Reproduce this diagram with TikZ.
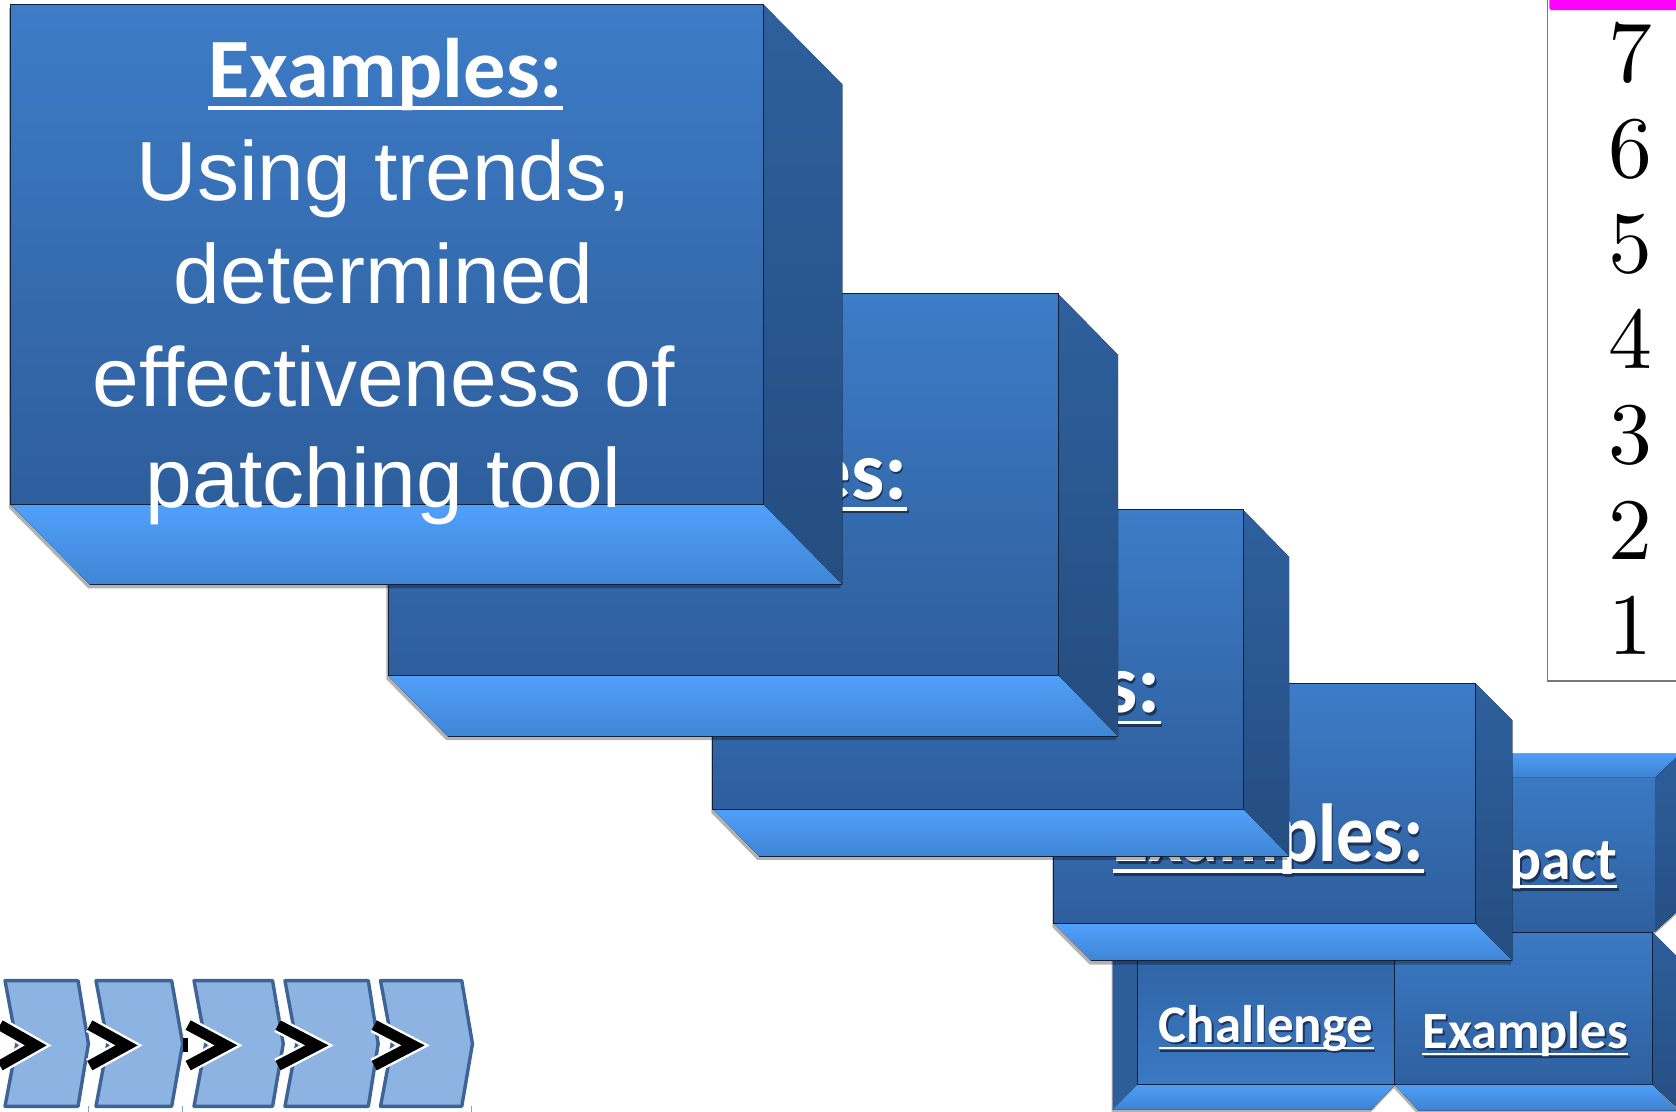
\documentclass[tikz,border=0pt]{standalone}
\usepackage{fontspec}
\usepackage{graphicx}
\usetikzlibrary{calc}
\newfontfamily\calibrifont{Carlito}
\newfontfamily\arialfont{Liberation Sans}
\newfontfamily\numfont[Extension=.otf]{lmroman10-regular}

\definecolor{faceTop}{RGB}{61,124,199}
\definecolor{faceBot}{RGB}{46,94,156}
\definecolor{sideTop}{RGB}{46,96,157}
\definecolor{sideBot}{RGB}{37,77,128}
\definecolor{baseTop}{RGB}{80,160,250}
\definecolor{baseBot}{RGB}{63,133,213}
\definecolor{edgeNavy}{RGB}{18,32,56}
\definecolor{txtShade}{RGB}{28,52,90}
\definecolor{bevLightTop}{RGB}{78,158,246}
\definecolor{bevLightBot}{RGB}{62,130,210}
\definecolor{bevDarkTop}{RGB}{45,94,154}
\definecolor{bevDarkBot}{RGB}{38,79,131}
\definecolor{panelHi}{RGB}{59,121,196}
\definecolor{panelLo}{RGB}{46,96,158}
\definecolor{chevFill}{RGB}{141,179,226}
\definecolor{chevLine}{RGB}{62,100,150}
\definecolor{colBorder}{RGB}{120,120,120}
\definecolor{barPink}{RGB}{255,0,255}

\tikzset{
  frontface/.style={top color=faceTop,bottom color=faceBot,draw=edgeNavy,line width=0.9pt},
  sideface/.style={top color=sideTop,bottom color=sideBot},
  baseface/.style={top color=baseTop,bottom color=baseBot},
  boxshade/.style={fill=black,fill opacity=0.3},
  edgeline/.style={draw=edgeNavy,line width=0.9pt},
  ttl/.style={font=\calibrifont\bfseries\fontsize{#1}{#1}\selectfont,inner sep=0pt},
  bodytxt/.style={font=\arialfont\fontsize{78.5}{94}\selectfont,text=white,inner sep=0pt,anchor=base},
  numtxt/.style={font=\numfont\fontsize{82}{82}\selectfont,inner sep=0pt,anchor=base},
  chev/.style={fill=chevFill,draw=chevLine,line width=3.2pt,line join=round},
  lightbevel/.style={top color=bevLightTop,bottom color=bevLightBot},
  darkbevel/.style={top color=bevDarkTop,bottom color=bevDarkBot},
}

% 3-D slab: front rectangle (#1,#2)-(#3,#4), depth (#5,#6)
\newcommand\slab[6]{%
  \fill[boxshade,shift={(-1.5,3.5)}] (#1,#2) -- (#3,#2) -- (#3+#5,#2+#6) -- (#3+#5,#4+#6) -- (#1+#5,#4+#6) -- (#1,#4) -- cycle;
  \fill[sideface] (#3,#2) -- (#3+#5,#2+#6) -- (#3+#5,#4+#6) -- (#3,#4) -- cycle;
  \fill[baseface] (#1,#4) -- (#3,#4) -- (#3+#5,#4+#6) -- (#1+#5,#4+#6) -- cycle;
  \draw[edgeline] (#1+#5,#4+#6) -- (#3+#5,#4+#6);
  \filldraw[frontface] (#1,#2) rectangle (#3,#4);
}

% underlined white title with a dark drop shadow
\newcommand\shadetitle[6]{%
  \node[ttl=#4,text=txtShade,anchor=#5] (#1-sh) at (#2+1.5,#3+2.6) {#6};
  \draw[txtShade,line width=0.045*#4] ($(#1-sh.base west)+(0,0.115*#4)$) -- ($(#1-sh.base east)+(0,0.115*#4)$);
  \node[ttl=#4,text=white,anchor=#5] (#1) at (#2,#3) {#6};
  \draw[white,line width=0.045*#4] ($(#1.base west)+(0,0.115*#4)$) -- ($(#1.base east)+(0,0.115*#4)$);
}

% chevron: left x, top-right x, point x
\newcommand\chevron[3]{%
  \draw[chev] (#1,917.5) -- (#2,917.5) -- (#3,976.5) -- (#2,1035) -- (#1,1035) -- (#1+11,976.5) -- cycle;
}
% heavy ">" mark: left x, tip x
\newcommand\gtmark[2]{%
  \draw[white,line width=14.5pt,line join=miter] (#1+2,959) -- (#2-10.5,978) -- (#1+2,997);
  \draw[black,line width=10pt,line join=miter] (#1+2,959) -- (#2-10.5,978) -- (#1+2,997);
}

\begin{document}
\begin{tikzpicture}[x=1pt,y=-1pt]
\useasboundingbox (0,0) rectangle (1568,1040);
\clip (0,0) rectangle (1568,1040);
\fill[white] (0,0) rectangle (1568,1040);

% ---- numbered column ----
\filldraw[fill=white,draw=colBorder,line width=1.2pt] (1448,-5) rectangle (1600,637);
\fill[barPink,rounded corners=2pt] (1449.5,-5) rectangle (1600,9.4);
\foreach \n [count=\i from 0] in {7,6,5,4,3,2,1}
  \node[numtxt] (num\n) at (1525,76.5+89.3*\i) {\n};

% ---- chevron strip ----
\chevron{4.7}{73}{82.7}
\chevron{89.8}{160.6}{170.9}
\chevron{181.5}{255}{265}
\chevron{266.6}{344.6}{353.8}
\chevron{356}{432}{442}
\foreach \tx in {83,171,441}
  \draw[chevLine!60,line width=0.8pt] (\tx,1035) -- (\tx,1040);
\gtmark{-2}{44}
\gtmark{82}{129}
\gtmark{174}{222}
\gtmark{258}{307}
\gtmark{348}{397}
\fill[black] (171,971) rectangle (176,984);

% ---- bevelled "Impact" panel ----
\fill[boxshade,shift={(-1,3)}] (1395,705) -- (1572,705) -- (1572,850) -- (1549,871) -- (1395,871) -- cycle;
\fill[top color=panelHi,bottom color=panelLo] (1395,727) rectangle (1549,871);
\fill[lightbevel] (1395,705) -- (1572,705) -- (1549,727) -- (1395,727) -- cycle;
\fill[darkbevel] (1549,727) -- (1572,705) -- (1572,850) -- (1549,871) -- cycle;
\shadetitle{tImpact}{1513}{823}{56}{base east}{Impact}

% ---- bevelled "Examples" panel ----
\fill[boxshade,shift={(-1,3)}] (1305,872) -- (1546,872) -- (1572,898) -- (1572,1039) -- (1327,1039) -- (1305,1015) -- cycle;
\filldraw[top color=panelHi,bottom color=panelLo,draw=edgeNavy,line width=0.9pt] (1305,872) rectangle (1546,1015);
\fill[darkbevel] (1546,872) -- (1572,898) -- (1572,1039) -- (1546,1015) -- cycle;
\fill[lightbevel] (1305,1015) -- (1546,1015) -- (1570,1039) -- (1327,1039) -- cycle;
\draw[edgeline] (1546,872) -- (1546,1015);
\shadetitle{tEx}{1427}{980.5}{49}{base}{Examples}

% ---- bevelled "Challenge" panel ----
\fill[boxshade,shift={(-1,3)}] (1041,870) -- (1305,870) -- (1305,1015) -- (1283,1038) -- (1041,1038) -- cycle;
\filldraw[top color=panelLo,bottom color=panelHi,draw=edgeNavy,line width=0.9pt] (1064,870) rectangle (1305,1015);
\fill[bevDarkTop] (1041,870) -- (1064,870) -- (1064,1015) -- (1041,1038) -- cycle;
\fill[lightbevel] (1041,1038) -- (1064,1015) -- (1305,1015) -- (1283,1038) -- cycle;
\draw[edgeline] (1064,870) -- (1064,1015) -- (1305,1015);
\shadetitle{tCh}{1184.5}{975}{49.5}{base}{Challenge}

% ---- stacked slabs, back to front ----
\slab{986}{639}{1380}{864}{35}{35}
\shadetitle{tD}{1186.5}{806}{77}{base}{\scalebox{0.9}[1]{Examples:}}

\slab{667}{477}{1163}{757}{43}{44}
\shadetitle{tC}{1086}{667}{78}{base east}{Examples:}

\slab{363}{275}{990}{632}{56}{57}
\shadetitle{tB}{849}{467}{78}{base east}{Examples:}

\slab{10}{4}{714}{472}{74}{75}
\node[ttl=79,text=white,anchor=base] (tA) at (361,91.5) {Examples:};
\draw[white,line width=3.6pt] ($(tA.base west)+(0,9.5)$) -- ($(tA.base east)+(0,9.5)$);
\node[bodytxt] (lineA) at (359,188) {Using trends,};
\node[bodytxt] (lineB) at (359,284) {determined};
\node[bodytxt] (lineC) at (359,380) {effectiveness of};
\node[bodytxt] (lineD) at (359,475) {patching tool};
\end{tikzpicture}
\end{document}
